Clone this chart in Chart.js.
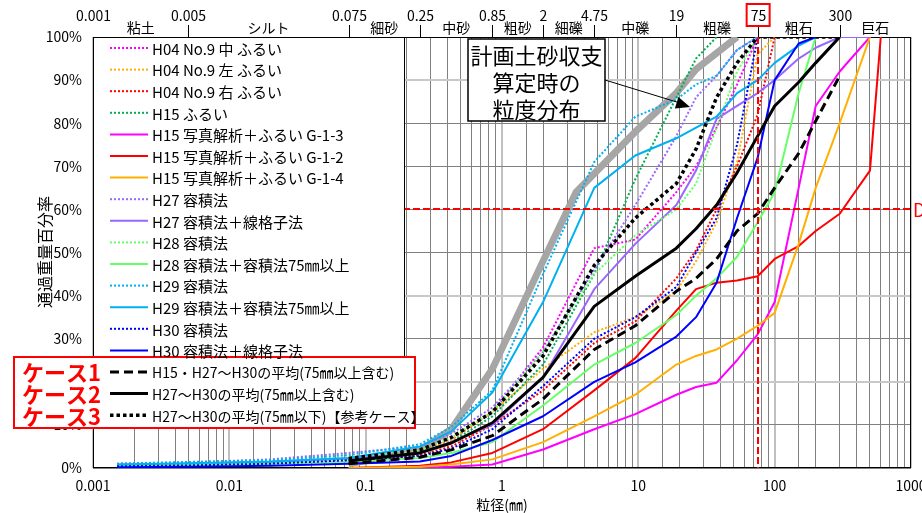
<!DOCTYPE html>
<html lang="ja">
<head>
<meta charset="utf-8">
<title>粒度分布</title>
<script src="https://cdn.jsdelivr.net/npm/chart.js@4.4.1/dist/chart.umd.min.js"></script>
<style>
  html, body { margin: 0; padding: 0; background: #fff; }
  #wrap { position: relative; width: 922px; height: 513px; }
</style>
</head>
<body>
<div id="wrap"><canvas id="grain-chart" width="922" height="513"></canvas></div>
<script>
// sieve sizes (mm) shared by the survey series
const sieveSizes = [0.0015, 0.005, 0.02, 0.075, 0.25, 0.425, 0.85, 2, 4.75, 9.5, 19, 26.5, 37.5, 53, 75, 100, 150, 200, 300, 500, 600];

// passing percentages, one value per sieve size (null = no data)
const h04Center = [null, null, null, 2, 4, 6.5, 13, 28, 51, 53, 64, 70, 79, 89, 100, null, null, null, null, null, null];
const h04Left   = [null, null, null, 1.5, 4, 6.5, 13, 23, 31.5, 35, 41, 48, 57, 71, 96, 100, null, null, null, null, null];
const h04Right  = [null, null, null, 1, 3, 5, 10, 18, 29, 34, 44, 50.5, 60, 70, 82, 100, null, null, null, null, null];
const h15Sieve  = [null, null, null, 1.5, 3.5, 6, 12, 24, 45, 67, 86, 95, 100, null, null, null, null, null, null, null, null];
const h15G13    = [null, null, null, 0, 0.1, 0.3, 0.8, 4.3, 9, 12.5, 17, 18.8, 19.8, 25, 31, 38.5, 65, 84, 92, 100, null];
const h15G12    = [null, null, null, 0, 0.5, 1.3, 3.5, 9, 18, 25.5, 36.5, 41.5, 43, 43.5, 44.5, 48.5, 51.5, 55, 59, 69, 100];
const h15G14    = [null, null, null, 0, 0.3, 0.8, 2, 6, 12, 17, 24, 26, 27.5, 30, 33, 36, 52, 65, 80, 100, null];
const h27Vol    = [1.0, 1.3, 2.0, 3.5, 5, 8, 14, 27, 46, 61, 77, 86, 91, 97, 100, null, null, null, null, null, null];
const h27Grid   = [0.8, 1.0, 1.4, 2.2, 3.5, 6, 10, 21, 41.5, 52, 61, 69, 81, 84, 87, 90, 95, 97.5, 100, 100, null];
const h28Vol    = [0.7, 1.0, 1.5, 2.5, 4, 7, 13, 27, 45, 54, 60, 66, 79, 92, 100, null, null, null, null, null, null];
const h28Vol75  = [0.5, 0.7, 1.0, 1.5, 2.3, 3.5, 6, 14.5, 24, 29, 35.5, 40, 44, 49, 57, 64, 87, 100, null, null, null];
const h29Vol    = [1.0, 1.4, 1.8, 3, 5.5, 9.5, 18, 45, 71, 81.5, 85.5, 89, 91, 97, 100, null, null, null, null, null, null];
const h29Vol75  = [0.8, 1.1, 1.5, 2.3, 5, 8.5, 17.5, 38.5, 65, 72.5, 76.5, 79, 81.5, 87, 90, 94, 98, 100, null, null, null];
const h30Vol    = [0.4, 0.6, 1.0, 1.8, 2.8, 4.5, 9, 19, 30, 35, 42, 50, 58, 75, 100, null, null, null, null, null, null];
const h30Grid   = [0.2, 0.3, 0.5, 1.0, 1.5, 2.8, 6.5, 12, 20, 24.5, 30.5, 35, 43, 58, 72, 90, 98.5, 100, null, null, null];
const case1Avg  = [null, null, null, 1.0, 2.5, 4.2, 7.5, 16, 27.5, 33, 41, 44, 48.5, 55, 59, 65, 73, 80.5, 91, null, null];
const case2Avg  = [null, null, null, 1.6, 3.5, 5.8, 10.5, 21, 37.5, 44.5, 51, 55.5, 61, 68.5, 77, 84, 89.5, 94, 100, null, null];
const case3Avg  = [null, null, null, 2.2, 4.2, 7.1, 13, 26, 47, 58, 66, 74, 86, 94, 100, 100, 100, 100, 100, null, null];

// grain size distribution used for the sediment budget (grey line)
const planSizes = [0.075, 0.25, 0.425, 0.85, 2, 3.5, 9.5, 19, 26.5, 53];
const planPct   = [1, 4, 9, 23, 48, 64, 78, 87, 92.5, 100];

// reference lines
const refSize = 75;
const refPct = 60;

// axis texts
const bottomTicks = [0.001, 0.01, 0.1, 1, 10, 100, 1000];
const bottomTickLabels = ['0.001', '0.01', '0.1', '1', '10', '100', '1000'];
const topTicks = [0.001, 0.005, 0.075, 0.25, 0.85, 2, 4.75, 19, 75, 300, 1000];
const topTickLabels = ['0.001', '0.005', '0.075', '0.25', '0.85', '2', '4.75', '19', '75', '300', ''];
const soilClasses = ['粘土', 'シルト', '細砂', '中砂', '粗砂', '細礫', '中礫', '粗礫', '粗石', '巨石'];
const caseNames = ['ケース1', 'ケース2', 'ケース3'];

const FONT = '"Noto Sans CJK JP", "Noto Sans", sans-serif';

// line styles
const styles = {
  dot:   { borderWidth: 2, borderDash: [2, 2] },
  solid: { borderWidth: 2, borderDash: [] },
  bdash: { borderWidth: 3, borderDash: [9, 5] },
  bsolid:{ borderWidth: 3, borderDash: [] },
  bdot:  { borderWidth: 3.5, borderDash: [3.5, 3] }
};

const series = [
  { label: 'H04 No.9 中 ふるい', pct: h04Center, color: '#ff00ff', style: 'dot' },
  { label: 'H04 No.9 左 ふるい', pct: h04Left, color: '#ffb000', style: 'dot' },
  { label: 'H04 No.9 右 ふるい', pct: h04Right, color: '#ff0000', style: 'dot' },
  { label: 'H15 ふるい', pct: h15Sieve, color: '#00b050', style: 'dot' },
  { label: 'H15 写真解析＋ふるい G-1-3', pct: h15G13, color: '#ff00ff', style: 'solid' },
  { label: 'H15 写真解析＋ふるい G-1-2', pct: h15G12, color: '#ff0000', style: 'solid' },
  { label: 'H15 写真解析＋ふるい G-1-4', pct: h15G14, color: '#ffb000', style: 'solid' },
  { label: 'H27 容積法', pct: h27Vol, color: '#9966ff', style: 'dot' },
  { label: 'H27 容積法＋線格子法', pct: h27Grid, color: '#9966ff', style: 'solid' },
  { label: 'H28 容積法', pct: h28Vol, color: '#66ff66', style: 'dot' },
  { label: 'H28 容積法＋容積法75㎜以上', pct: h28Vol75, color: '#66ff66', style: 'solid' },
  { label: 'H29 容積法', pct: h29Vol, color: '#00b0f0', style: 'dot' },
  { label: 'H29 容積法＋容積法75㎜以上', pct: h29Vol75, color: '#00b0f0', style: 'solid' },
  { label: 'H30 容積法', pct: h30Vol, color: '#0000ff', style: 'dot' },
  { label: 'H30 容積法＋線格子法', pct: h30Grid, color: '#0000ff', style: 'solid' },
  { label: 'H15・H27～H30の平均(75㎜以上含む)', pct: case1Avg, color: '#000000', style: 'bdash' },
  { label: 'H27～H30の平均(75㎜以上含む)', pct: case2Avg, color: '#000000', style: 'bsolid' },
  { label: 'H27～H30の平均(75㎜以下)【参考ケース】', pct: case3Avg, color: '#000000', style: 'bdot' }
];

function toPoints(sizes, pct) {
  return sizes.map((s, i) => ({ x: s, y: pct[i] })).filter(p => p.y !== null);
}

const datasets = [{
  label: '計画土砂収支算定時の粒度分布',
  data: toPoints(planSizes, planPct),
  borderColor: '#a6a6a6',
  borderWidth: 7,
  borderCapStyle: 'butt',
  pointRadius: 0,
  order: 0
}];
series.forEach((s, i) => {
  datasets.push({
    label: s.label,
    data: toPoints(sieveSizes, s.pct),
    borderColor: s.color,
    borderWidth: styles[s.style].borderWidth,
    borderDash: styles[s.style].borderDash,
    borderCapStyle: 'butt',
    borderJoinStyle: 'round',
    pointRadius: 0,
    order: -(i + 1)
  });
});

function isNear(a, b) {
  return Math.abs(Math.log10(a) - Math.log10(b)) < 1e-6;
}

const overlay = {
  id: 'overlay',
  beforeDatasetsDraw(chart) {
    const { ctx, chartArea: a } = chart;
    ctx.save();
    ctx.strokeStyle = '#000';
    ctx.lineWidth = 1;
    ctx.strokeRect(a.left + 0.5, a.top + 0.5, a.right - a.left - 1, a.bottom - a.top - 1);
    ctx.restore();
  },
  afterDatasetsDraw(chart) {
    const { ctx, chartArea: a, scales: { x, y } } = chart;
    ctx.save();
    ctx.strokeStyle = '#ff0000';
    ctx.lineWidth = 2;
    ctx.setLineDash([7, 3]);
    const rx = Math.round(x.getPixelForValue(refSize));
    ctx.beginPath(); ctx.moveTo(rx, a.top); ctx.lineTo(rx, a.bottom); ctx.stroke();
    const ry = Math.round(y.getPixelForValue(refPct));
    ctx.beginPath(); ctx.moveTo(a.left, ry); ctx.lineTo(a.right + 2, ry); ctx.stroke();
    ctx.setLineDash([]);
    ctx.fillStyle = '#ff0000';
    ctx.font = '18px ' + FONT;
    ctx.textBaseline = 'middle';
    ctx.textAlign = 'left';
    ctx.fillText('D', a.right + 2, ry + 1);
    ctx.restore();
  },
  afterDraw(chart) {
    const { ctx, chartArea: a, scales: { x } } = chart;
    ctx.save();

    // top classification axis
    ctx.fillStyle = '#000';
    ctx.strokeStyle = '#000';
    ctx.lineWidth = 1;
    ctx.textAlign = 'center';
    ctx.textBaseline = 'middle';
    ctx.font = '14px ' + FONT;
    topTicks.forEach((t, i) => {
      const px = Math.round(x.getPixelForValue(t)) + 0.5;
      if (i > 0 && i < topTicks.length - 1) {
        ctx.beginPath(); ctx.moveTo(px, a.top - 12); ctx.lineTo(px, a.top); ctx.stroke();
      }
      if (topTickLabels[i]) ctx.fillText(topTickLabels[i], px, 16);
    });
    soilClasses.forEach((name, i) => {
      const mid = Math.sqrt(topTicks[i] * topTicks[i + 1]);
      ctx.fillText(name, x.getPixelForValue(mid), 28);
    });
    // red box around 75
    const p75 = x.getPixelForValue(refSize);
    ctx.strokeStyle = '#ff0000';
    ctx.lineWidth = 2;
    ctx.strokeRect(p75 - 11, 4, 23, 22);

    // axis titles
    ctx.fillStyle = '#000';
    ctx.font = '14px ' + FONT;
    ctx.fillText('粒径(㎜)', (a.left + a.right) / 2, 505);
    ctx.save();
    ctx.translate(45, 252);
    ctx.rotate(-Math.PI / 2);
    ctx.font = '16px ' + FONT;
    ctx.fillText('通過重量百分率', 0, 0);
    ctx.restore();

    // legend box
    ctx.fillStyle = '#fff';
    ctx.fillRect(a.left, a.top, 312, 390);
    ctx.strokeStyle = '#000';
    ctx.lineWidth = 1;
    ctx.strokeRect(a.left + 0.5, a.top + 0.5, 311, 390);

    // case box
    ctx.fillStyle = '#fff';
    ctx.fillRect(14, 357, 401, 71);
    ctx.strokeStyle = '#ff0000';
    ctx.lineWidth = 2;
    ctx.strokeRect(14, 357, 401, 71);

    // legend entries
    ctx.textAlign = 'left';
    ctx.textBaseline = 'middle';
    chart.data.datasets.slice(1).forEach((ds, i) => {
      const ry = 48 + i * 21.6;
      ctx.strokeStyle = ds.borderColor;
      ctx.lineWidth = ds.borderWidth;
      ctx.lineCap = 'butt';
      ctx.setLineDash(ds.borderDash);
      ctx.beginPath(); ctx.moveTo(110, ry); ctx.lineTo(148, ry); ctx.stroke();
      ctx.setLineDash([]);
      ctx.fillStyle = '#000';
      ctx.font = (i < 15 ? '15px ' : '14px ') + FONT;
      ctx.fillText(ds.label, 152, ry + 1);
    });
    ctx.fillStyle = '#ff0000';
    ctx.font = 'bold 22px ' + FONT;
    caseNames.forEach((name, i) => {
      ctx.fillText(name, 22, 48 + (15 + i) * 21.6 + 1);
    });

    // annotation
    ctx.fillStyle = '#fff';
    ctx.fillRect(468, 39, 137, 82);
    ctx.strokeStyle = '#000';
    ctx.lineWidth = 1.5;
    ctx.strokeRect(468, 39, 137, 82);
    ctx.fillStyle = '#000';
    ctx.textAlign = 'center';
    ctx.font = '22px ' + FONT;
    ['計画土砂収支', '算定時の', '粒度分布'].forEach((line, i) => {
      ctx.fillText(line, 536.5, 56 + i * 27);
    });
    // arrow
    ctx.lineWidth = 1;
    ctx.beginPath(); ctx.moveTo(605, 80); ctx.lineTo(680, 103); ctx.stroke();
    const ang = Math.atan2(107 - 80, 690 - 605);
    ctx.beginPath();
    ctx.moveTo(690, 107);
    ctx.lineTo(690 - 14 * Math.cos(ang) + 6 * Math.sin(ang), 107 - 14 * Math.sin(ang) - 6 * Math.cos(ang));
    ctx.lineTo(690 - 14 * Math.cos(ang) - 6 * Math.sin(ang), 107 - 14 * Math.sin(ang) + 6 * Math.cos(ang));
    ctx.closePath();
    ctx.fill();

    ctx.restore();
  }
};

const lightRows = [20, 40, 90];

new Chart(document.getElementById('grain-chart'), {
  type: 'line',
  data: { datasets },
  options: {
    responsive: false,
    animation: false,
    devicePixelRatio: 1,
    events: [],
    layout: { padding: { top: 37, right: 11, left: 0, bottom: 0 } },
    elements: { line: { tension: 0, fill: false } },
    plugins: { legend: { display: false }, tooltip: { enabled: false } },
    scales: {
      x: {
        type: 'logarithmic',
        min: 0.001,
        max: 1000,
        border: { display: false },
        grid: {
          drawTicks: false,
          color: c => {
            const v = c.tick.value;
            return bottomTicks.some(b => isNear(b, v)) ? '#c0c0c0' : '#808080';
          },
          lineWidth: c => bottomTicks.some(b => isNear(b, c.tick.value)) ? 2 : 1
        },
        ticks: {
          autoSkip: false,
          maxRotation: 0,
          minRotation: 0,
          padding: 9,
          color: '#000',
          font: { family: FONT, size: 14 },
          callback: v => {
            const i = bottomTicks.findIndex(b => isNear(b, v));
            return i >= 0 ? bottomTickLabels[i] : '';
          }
        },
        afterFit: s => { s.height = 45; s.paddingLeft = 0; s.paddingRight = 0; }
      },
      y: {
        min: 0,
        max: 100,
        border: { display: false },
        grid: {
          drawTicks: false,
          color: c => lightRows.includes(c.tick.value) ? '#c8c8c8' : '#808080',
          lineWidth: c => lightRows.includes(c.tick.value) ? 2 : 1
        },
        ticks: {
          stepSize: 10,
          padding: 11,
          color: '#000',
          font: { family: FONT, size: 14 },
          callback: v => v + '%'
        },
        afterFit: s => { s.width = 93; s.paddingTop = 0; s.paddingBottom = 0; }
      }
    }
  },
  plugins: [overlay]
});
</script>
</body>
</html>
